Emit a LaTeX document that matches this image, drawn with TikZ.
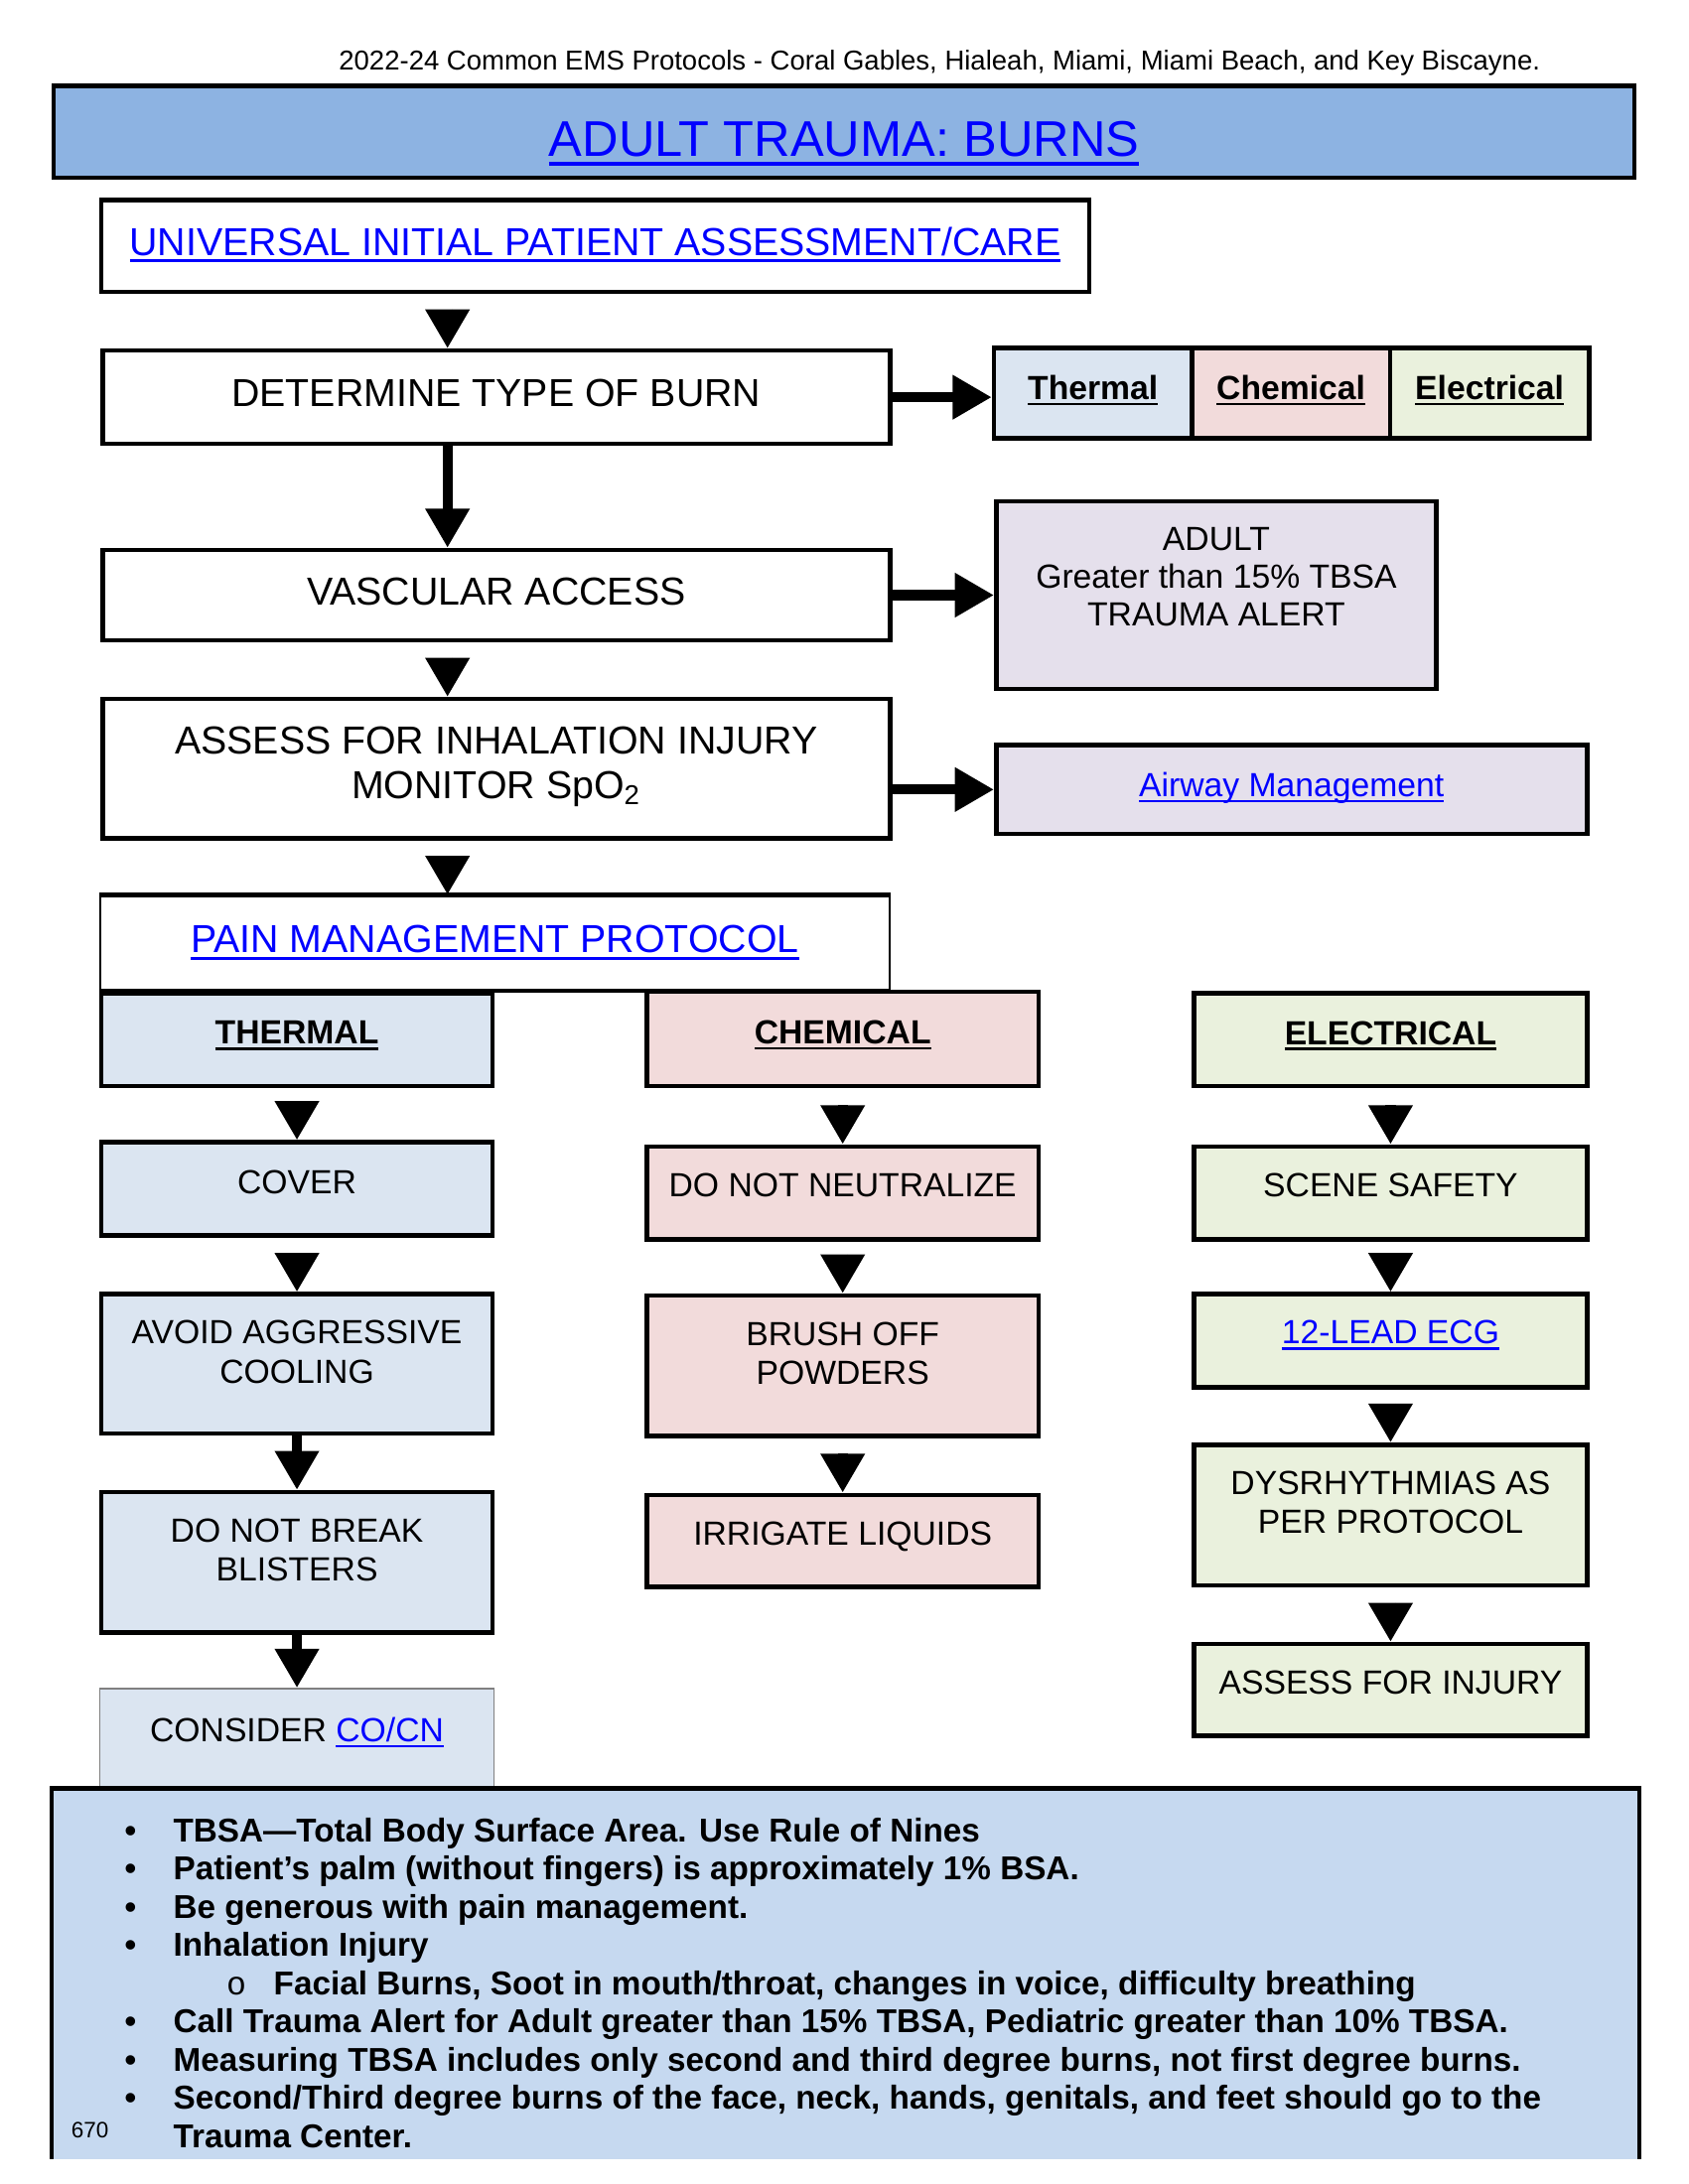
\documentclass[tikz,border=0pt]{standalone}
\usepackage{fontspec}
\setmainfont{Liberation Sans}
\newfontfamily\bulletmono{Liberation Mono}
\usepackage{tikz}
\usetikzlibrary{arrows.meta}
\usetikzlibrary{positioning}
\usetikzlibrary{calc}
\definecolor{titleblue}{RGB}{141,179,226}
\definecolor{linkblue}{RGB}{0,0,255}
\definecolor{thermalfill}{RGB}{219,229,241}
\definecolor{chemicalfill}{RGB}{242,219,219}
\definecolor{electricalfill}{RGB}{234,241,221}
\definecolor{alertfill}{RGB}{229,224,236}
\definecolor{notesfill}{RGB}{198,217,240}
\newcommand{\undr}[1]{{\setbox0\hbox{#1}\rlap{\copy0}\rule[-0.17em]{\wd0}{0.075em}}}
\newcommand{\lnk}[1]{\textcolor{linkblue}{\undr{#1}}}
\newcommand{\itm}{\makebox[17.5pt][l]{\textbullet}}
\tikzstyle{flowBox} = [rectangle, draw, line width=1.6pt, fill=white, align=center, minimum width=282.4pt, minimum height=33.4pt, font=\fontsize{14}{16}\selectfont]
\tikzstyle{typeBox} = [rectangle, draw, line width=1.6pt, minimum width=71pt, minimum height=32.4pt, text depth=4pt, font=\bfseries\fontsize{12}{14}\selectfont]
\tikzstyle{colBox} = [rectangle, draw, line width=1.6pt, align=center, minimum width=140.4pt, minimum height=33.4pt, anchor=north, font=\fontsize{12}{14}\selectfont]
\tikzstyle{headBox} = [colBox, anchor=center, text depth=5pt, font=\bfseries\fontsize{12}{14}\selectfont]
\tikzstyle{bigArrow} = [line width=3.6pt, -{Triangle[length=14pt, width=15pt]}]

\begin{document}
\begin{tikzpicture}[x=0.5pt, y=-0.5pt]
	\useasboundingbox (0,0) rectangle (1211,1567);
	
	\node[font=\fontsize{9.8}{12}\selectfont, inner sep=0pt]at(674,45)(Page-Header){2022-24 Common EMS Protocols - Coral Gables, Hialeah, Miami, Miami Beach, and Key Biscayne.};
	
	\node[rectangle, draw, line width=1.6pt, fill=titleblue, minimum width=566.9pt, minimum height=32.9pt, text height=18pt, text depth=0pt, font=\fontsize{18}{20}\selectfont]at(605.5,94.5)(Box-Title){\lnk{ADULT TRAUMA: BURNS}};
	
	% main column
	\node[flowBox, minimum width=354.4pt, minimum height=32.9pt, text depth=3.5pt]at(427,176.5)(Box-Universal){\lnk{UNIVERSAL INITIAL PATIENT ASSESSMENT/CARE}};
	
	\node[flowBox, text depth=3pt]at(356,285)(Box-Determine){DETERMINE TYPE OF BURN};
	
	\node[flowBox, minimum height=32.4pt, text depth=3pt]at(356,427)(Box-Vascular){VASCULAR ACCESS};
	
	\node[flowBox, minimum height=49.9pt, text depth=4.5pt]at(356,551.5)(Box-Assess){ASSESS FOR INHALATION INJURY\\MONITOR SpO\textsubscript{2}};
	
	\node[flowBox, line width=0.8pt, minimum width=283.2pt, minimum height=33.7pt, text depth=2.5pt]at(355,676.5)(Box-Pain){\lnk{PAIN MANAGEMENT PROTOCOL}};
	\draw[line width=1.6pt] (Box-Pain.north west) -- (Box-Pain.north east);
	\draw[line width=1.6pt] (Box-Pain.south west) -- (Box-Pain.south east);
	
	% side boxes
	\node[typeBox, fill=thermalfill]at(784,282)(Type-Thermal){\undr{Thermal}};
	
	\node[typeBox, fill=chemicalfill]at([xshift=71pt]Type-Thermal.center)(Type-Chemical){\undr{Chemical}};
	
	\node[typeBox, fill=electricalfill, minimum width=71.5pt]at([xshift=71.25pt]Type-Chemical.center)(Type-Electrical){\undr{Electrical}};
	
	\node[rectangle, draw, line width=1.6pt, fill=alertfill, align=center, minimum width=157.9pt, minimum height=67.4pt, text depth=13pt, font=\fontsize{12}{13.5}\selectfont]at(872.5,427)(Box-Alert){ADULT\\Greater than 15\% TBSA\\TRAUMA ALERT};
	
	\node[rectangle, draw, line width=1.6pt, fill=alertfill, minimum width=211.9pt, minimum height=31.9pt, text depth=3.5pt, font=\fontsize{12}{14}\selectfont]at(926.5,566.5)(Box-Airway){\lnk{Airway Management}};
	
	% thermal column
	\node[headBox, fill=thermalfill]at(213,746)(Thermal-Head){\undr{THERMAL}};
	
	\node[colBox, fill=thermalfill, text depth=5pt]at([yshift=-18.5pt]Thermal-Head.south)(Thermal-Cover){COVER};
	
	\node[colBox, fill=thermalfill, minimum height=49.9pt, text depth=8.5pt]at([yshift=-19.5pt]Thermal-Cover.south)(Thermal-Cooling){AVOID AGGRESSIVE\\COOLING};
	
	\node[colBox, fill=thermalfill, minimum height=50.4pt, text depth=9pt]at([yshift=-19.5pt]Thermal-Cooling.south)(Thermal-Blisters){DO NOT BREAK\\BLISTERS};
	
	\node[colBox, fill=thermalfill, draw=gray, line width=0.6pt, minimum width=141.4pt, minimum height=35.4pt, text depth=6pt]at([yshift=-19pt]Thermal-Blisters.south)(Thermal-Consider){CONSIDER \lnk{CO/CN}};
	
	% chemical column
	\node[headBox, fill=chemicalfill, minimum height=33.9pt]at(604.5,745.5)(Chemical-Head){\undr{CHEMICAL}};
	
	\node[colBox, fill=chemicalfill, text depth=6pt]at([yshift=-20pt]Chemical-Head.south)(Chemical-Neutralize){DO NOT NEUTRALIZE};
	
	\node[colBox, fill=chemicalfill, minimum height=50.4pt, text depth=9pt]at([yshift=-18.5pt]Chemical-Neutralize.south)(Chemical-Brush){BRUSH OFF\\POWDERS};
	
	\node[colBox, fill=chemicalfill, minimum height=32.9pt, text depth=5.5pt]at([yshift=-19.5pt]Chemical-Brush.south)(Chemical-Irrigate){IRRIGATE LIQUIDS};
	
	% electrical column
	\node[headBox, fill=electricalfill, minimum width=140.9pt]at(997.5,746)(Electrical-Head){\undr{ELECTRICAL}};
	
	\node[colBox, fill=electricalfill, minimum width=140.9pt, text depth=6pt]at([yshift=-20pt]Electrical-Head.south)(Electrical-Scene){SCENE SAFETY};
	
	\node[colBox, fill=electricalfill, minimum width=140.9pt, text depth=6pt]at([yshift=-18pt]Electrical-Scene.south)(Electrical-ECG){\lnk{12-LEAD ECG}};
	
	\node[colBox, fill=electricalfill, minimum width=140.9pt, minimum height=50.4pt, text depth=9pt]at([yshift=-19pt]Electrical-ECG.south)(Electrical-Rhythm){DYSRHYTHMIAS AS\\PER PROTOCOL};
	
	\node[colBox, fill=electricalfill, minimum width=140.9pt, minimum height=32.9pt, text depth=5.5pt]at([yshift=-19.5pt]Electrical-Rhythm.south)(Electrical-Injury){ASSESS FOR INJURY};
	
	% arrows
	\coordinate (Spine) at (321,0);
	\draw[bigArrow, shorten <=5.5pt] (Box-Universal.south -| Spine) -- (Box-Determine.north -| Spine);
	\draw[bigArrow] (Box-Determine.south -| Spine) -- (Box-Vascular.north -| Spine);
	\draw[bigArrow, shorten <=5.5pt] (Box-Vascular.south -| Spine) -- (Box-Assess.north -| Spine);
	\draw[bigArrow, shorten <=5.5pt] (Box-Assess.south -| Spine) -- (Box-Pain.north -| Spine);
	\draw[bigArrow] (Box-Determine.east) -- (Box-Determine.east -| Type-Thermal.west);
	\draw[bigArrow] (Box-Vascular.east) -- (Box-Alert.west);
	\draw[bigArrow] (Box-Assess.east |- Box-Airway.west) -- (Box-Airway.west);
	\foreach \from/\to/\gap in {Thermal-Head/Thermal-Cover/4.5pt, Thermal-Cover/Thermal-Cooling/5.5pt, Thermal-Cooling/Thermal-Blisters/0pt, Thermal-Blisters/Thermal-Consider/0pt, Chemical-Head/Chemical-Neutralize/6pt, Chemical-Neutralize/Chemical-Brush/4.5pt, Chemical-Brush/Chemical-Irrigate/5.5pt, Electrical-Head/Electrical-Scene/6pt, Electrical-Scene/Electrical-ECG/4pt, Electrical-ECG/Electrical-Rhythm/5pt, Electrical-Rhythm/Electrical-Injury/5.5pt}
		\draw[bigArrow, shorten <=\gap] (\from.south) -- (\to.north);
	
	% notes
	\fill[notesfill] (37,1283) rectangle (1176,1549);
	\draw[line width=1.6pt] (37,1549) -- (37,1283) -- (1176,1283) -- (1176,1549);
	
	\node[anchor=north west, inner sep=0pt, align=left, font=\bfseries\fontsize{11.85}{13.7}\selectfont]at(89,1304)(Notes-Text){\itm TBSA—Total Body Surface Area. Use Rule of Nines\\
		\itm Patient’s palm (without fingers) is approximately 1\% BSA.\\
		\itm Be generous with pain management.\\
		\itm Inhalation Injury\\
		\hspace*{36.5pt}\makebox[17pt][l]{\bulletmono\mdseries o}Facial Burns, Soot in mouth/throat, changes in voice, difficulty breathing\\
		\itm Call Trauma Alert for Adult greater than 15\% TBSA, Pediatric greater than 10\% TBSA.\\
		\itm Measuring TBSA includes only second and third degree burns, not first degree burns.\\
		\itm Second/Third degree burns of the face, neck, hands, genitals, and feet should go to the\\
		\hspace*{17.5pt}Trauma Center.};
	
	\node[font=\fontsize{8}{10}\selectfont, inner sep=0pt]at(64.5,1528)(Page-Number){670};

\end{tikzpicture}
\end{document}
